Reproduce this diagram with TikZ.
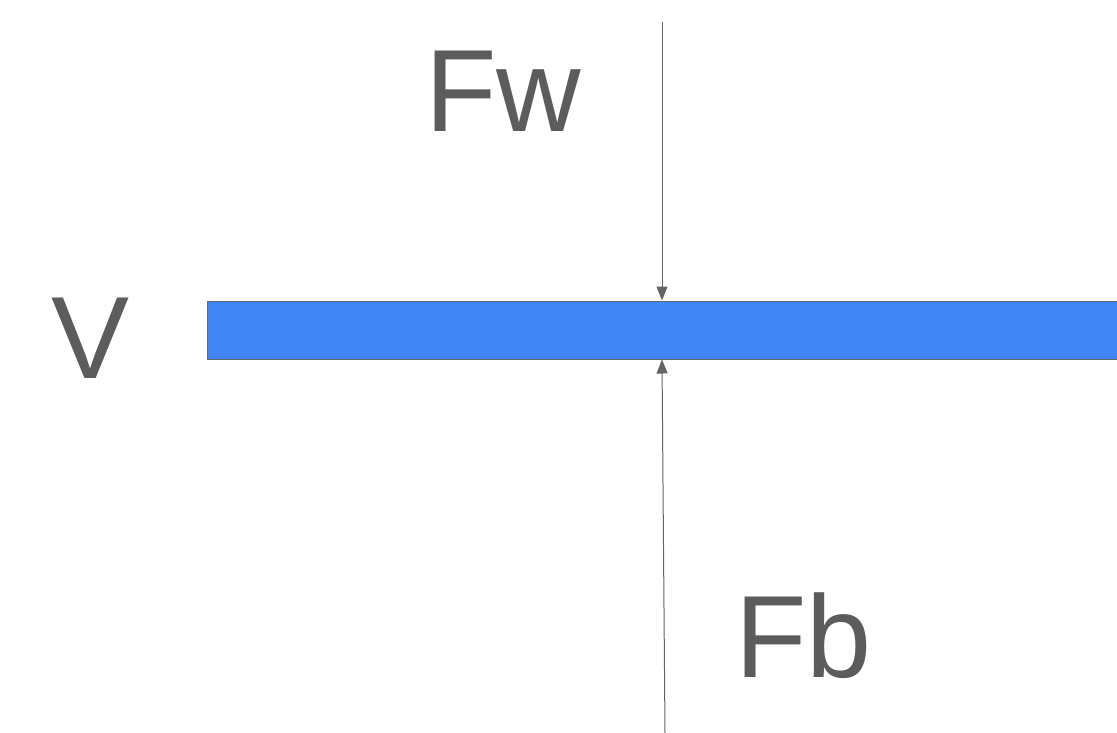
\documentclass[tikz,border=0pt]{standalone}
\usepackage{fontspec}
\setmainfont{Liberation Sans}
\usetikzlibrary{arrows.meta,positioning}
\definecolor{barblue}{RGB}{66,133,244}
\definecolor{edgegray}{RGB}{100,104,110}
\definecolor{linegray}{RGB}{100,100,100}
\definecolor{textgray}{RGB}{92,92,92}
\tikzset{
  platebox/.style={draw=edgegray, fill=barblue, line width=1pt, inner sep=0pt,
    minimum width=910pt, minimum height=58pt},
  forcelabel/.style={font=\fontsize{117}{117}\selectfont, text=textgray,
    inner sep=0pt, anchor=base west},
  forcearrow/.style={-{Triangle[length=14pt,width=11pt]}, line width=1pt, draw=linegray}
}
\begin{document}
\begin{tikzpicture}[x=1pt,y=-1pt]
  \useasboundingbox (0,0) rectangle (1117,733);

  \node[platebox] (plate) at (662,330) {};

  \node[forcelabel] (vlabel) at (51,378) {V};
  \node[forcelabel] (fwlabel) at (425,132) {Fw};
  \node[forcelabel] (fblabel) at (735,677) {Fb};

  \coordinate (wtail) at (662,22);
  \coordinate (btail) at (665,733);

  \draw[forcearrow] (wtail) -- (plate.north);
  \draw[forcearrow] (btail) -- (plate.south);
\end{tikzpicture}
\end{document}
